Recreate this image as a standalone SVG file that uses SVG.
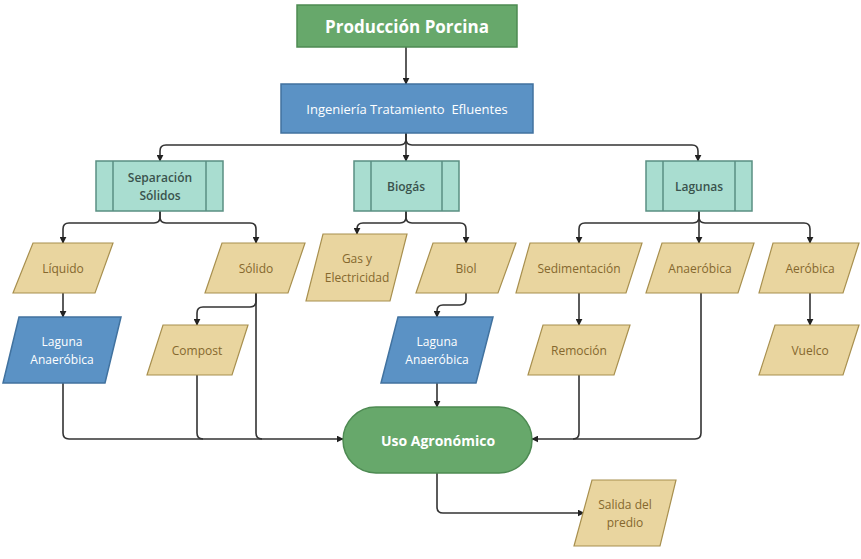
<svg xmlns="http://www.w3.org/2000/svg" width="861" height="559" viewBox="0 0 861 559">
<defs>
<marker id="ah" viewBox="0 0 10 10" refX="9" refY="5" markerWidth="7" markerHeight="7" orient="auto" markerUnits="userSpaceOnUse">
<path d="M0,0 L10,5 L0,10 Z" fill="#222"/>
</marker>
<style>
.c{fill:none;stroke:#333;stroke-width:1.6;marker-end:url(#ah)}
.cn{fill:none;stroke:#333;stroke-width:1.6}
.g{fill:#67a86b;stroke:#4d8a52;stroke-width:1.5}
.b{fill:#5b92c5;stroke:#41729f;stroke-width:1.5}
.t{fill:#a9ddd0;stroke:#5a8f82;stroke-width:1.5}
.y{fill:#e9d59f;stroke:#a8904f;stroke-width:1.2}
text{font-family:"Open Sans","Noto Sans","Liberation Sans",sans-serif;text-anchor:middle;dominant-baseline:central}
.wt{fill:#ffffff}
.tt{fill:#3a534d;font-size:12px;font-weight:600}
.yt{fill:#85682e;font-size:12px}
</style>
</defs>
<rect width="861" height="559" fill="#ffffff"/>
<g id="connectors">
<path class="c" d="M406,47 V84"/>
<path class="c" d="M406,133 V161"/>
<path class="c" d="M406,133 V139 Q406,145 400,145 H166 Q160,145 160,151 V161"/>
<path class="c" d="M406,133 V139 Q406,145 412,145 H692 Q698,145 698,151 V161"/>
<path class="c" d="M160,211 V217 Q160,223 154,223 H69 Q63,223 63,229 V243"/>
<path class="c" d="M160,211 V217 Q160,223 166,223 H250 Q256,223 256,229 V243"/>
<path class="c" d="M406,211 V217 Q406,223 400,223 H363 Q357,223 357,229 V234"/>
<path class="c" d="M406,211 V217 Q406,223 412,223 H460 Q466,223 466,229 V243"/>
<path class="c" d="M699,211 V217 Q699,223 693,223 H585 Q579,223 579,229 V243"/>
<path class="c" d="M699,211 V243"/>
<path class="c" d="M699,211 V217 Q699,223 705,223 H804 Q810,223 810,229 V243"/>
<path class="c" d="M63,293 V317"/>
<path class="c" d="M256,293 V301 Q256,307 250,307 H203 Q197,307 197,313 V325"/>
<path class="c" d="M466,293 V299 Q466,305 460,305 H443 Q437,305 437,311 V317"/>
<path class="c" d="M579,293 V325"/>
<path class="c" d="M810,293 V325"/>
<path class="c" d="M437,383 V407"/>
<path class="c" d="M63,383 V433 Q63,439 69,439 H343"/>
<path class="cn" d="M197,375 V433 Q197,439 203,439"/>
<path class="cn" d="M256,293 V433 Q256,439 262,439"/>
<path class="c" d="M701,293 V433 Q701,439 695,439 H532"/>
<path class="cn" d="M579,375 V433 Q579,439 573,439"/>
<path class="c" d="M437,473 V507 Q437,513 443,513 H584"/>
</g>
<g id="produccion">
<rect class="g" x="297" y="5" width="220" height="42"/>
<text class="wt" x="407" y="26" font-size="17" font-weight="bold">Producción Porcina</text>
</g>
<g id="ingenieria">
<rect class="b" x="281" y="84" width="252" height="49"/>
<text class="wt" x="407" y="109" font-size="13" xml:space="preserve">Ingeniería Tratamiento  Efluentes</text>
</g>
<g id="separacion">
<rect class="t" x="96" y="161" width="127" height="50"/>
<path class="t" d="M113,161 V211 M206,161 V211"/>
<text class="tt" x="160" y="177">Separación</text>
<text class="tt" x="160" y="195">Sólidos</text>
</g>
<g id="biogas">
<rect class="t" x="354" y="161" width="105" height="50"/>
<path class="t" d="M371,161 V211 M442,161 V211"/>
<text class="tt" x="406" y="186">Biogás</text>
</g>
<g id="lagunas">
<rect class="t" x="646" y="161" width="106" height="50"/>
<path class="t" d="M663,161 V211 M735,161 V211"/>
<text class="tt" x="699" y="186">Lagunas</text>
</g>
<g id="liquido">
<polygon class="y" points="33,243 113,243 95,293 13,293"/>
<text class="yt" x="63" y="268">Líquido</text>
</g>
<g id="solido">
<polygon class="y" points="222,243 305,243 288,293 205,293"/>
<text class="yt" x="256" y="268">Sólido</text>
</g>
<g id="gas">
<polygon class="y" points="323,234 407,234 390,301 306,301"/>
<text class="yt" x="357" y="258">Gas y</text>
<text class="yt" x="357" y="277">Electricidad</text>
</g>
<g id="biol">
<polygon class="y" points="433,243 516,243 498,293 416,293"/>
<text class="yt" x="466" y="268">Biol</text>
</g>
<g id="sedimentacion">
<polygon class="y" points="530,243 642,243 626,293 516,293"/>
<text class="yt" x="579" y="268">Sedimentación</text>
</g>
<g id="anaerobica">
<polygon class="y" points="662,243 754,243 738,293 646,293"/>
<text class="yt" x="700" y="268">Anaeróbica</text>
</g>
<g id="aerobica">
<polygon class="y" points="773,243 859,243 843,293 759,293"/>
<text class="yt" x="810" y="268">Aeróbica</text>
</g>
<g id="laguna1">
<polygon class="b" points="19,317 121,317 105,383 3,383"/>
<text class="wt" x="62" y="341" font-size="12">Laguna</text>
<text class="wt" x="62" y="359" font-size="12">Anaeróbica</text>
</g>
<g id="compost">
<polygon class="y" points="163,325 248,325 232,375 147,375"/>
<text class="yt" x="197" y="350">Compost</text>
</g>
<g id="laguna2">
<polygon class="b" points="398,317 493,317 476,383 381,383"/>
<text class="wt" x="437" y="341" font-size="12">Laguna</text>
<text class="wt" x="437" y="359" font-size="12">Anaeróbica</text>
</g>
<g id="remocion">
<polygon class="y" points="543,325 630,325 614,375 528,375"/>
<text class="yt" x="579" y="350">Remoción</text>
</g>
<g id="vuelco">
<polygon class="y" points="775,325 859,325 843,375 759,375"/>
<text class="yt" x="810" y="350">Vuelco</text>
</g>
<g id="uso">
<rect class="g" x="343" y="407" width="189" height="66" rx="33" ry="33"/>
<text class="wt" x="438" y="440" font-size="14" font-weight="bold">Uso Agronómico</text>
</g>
<g id="salida">
<polygon class="y" points="592,480 676,480 660,546 574,546"/>
<text class="yt" x="625" y="504">Salida del</text>
<text class="yt" x="625" y="522">predio</text>
</g>
</svg>
